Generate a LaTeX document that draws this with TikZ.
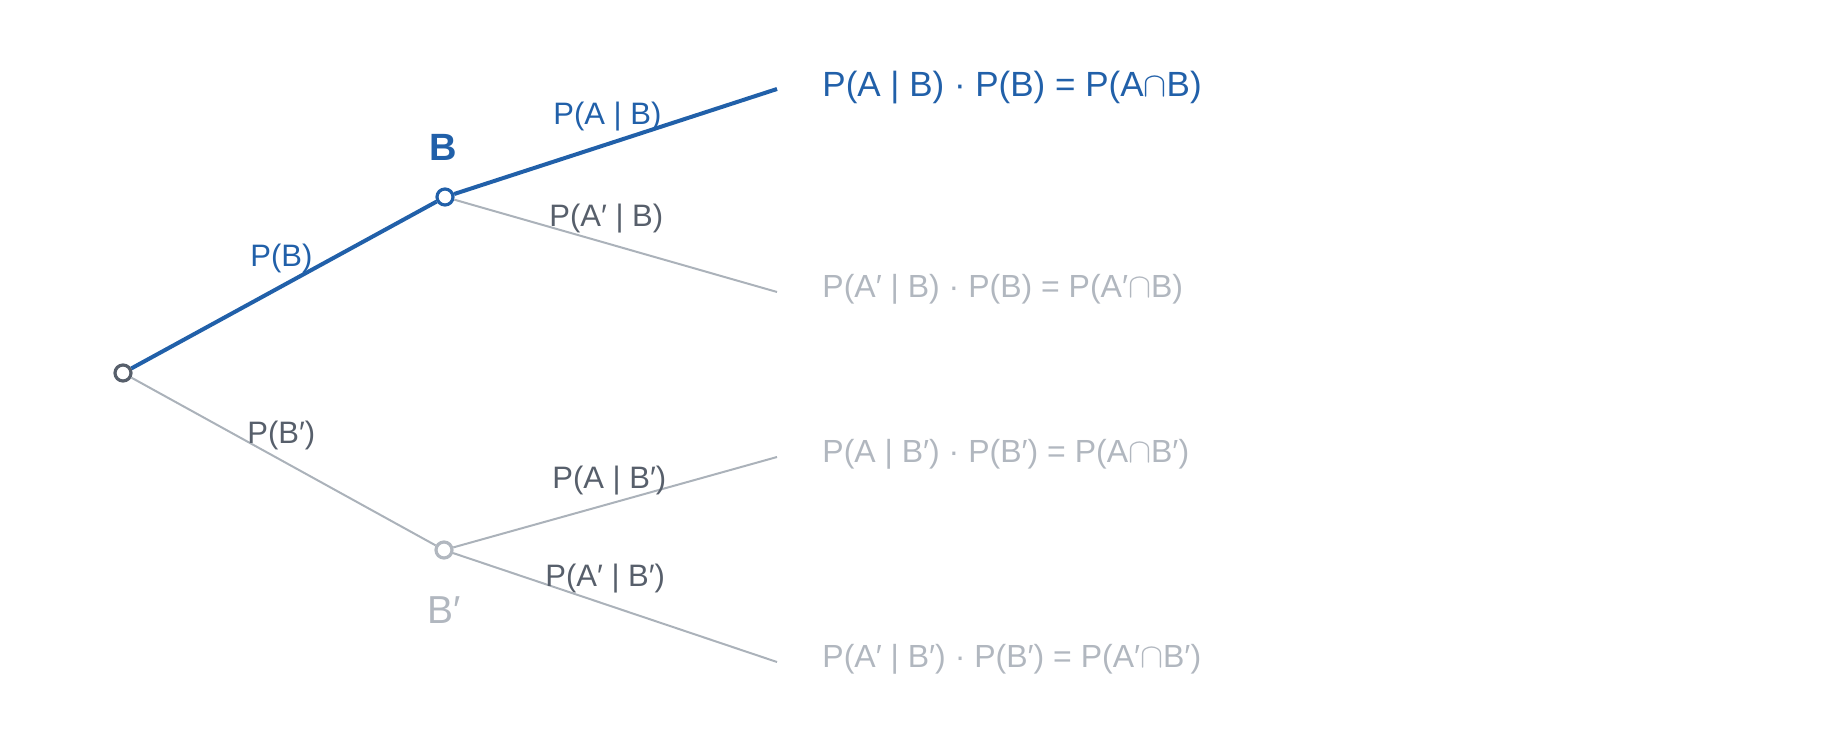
\documentclass[tikz,border=0pt]{standalone}
\usepackage{fontspec}
\setmainfont{Liberation Sans}
\definecolor{treeblue}{HTML}{2160A9}
\definecolor{darkgrey}{HTML}{575F6B}
\definecolor{lightgrey}{HTML}{ABB2BA}
\definecolor{leafgrey}{HTML}{B1B7BF}
\newcommand{\capsym}{\ensuremath{\cap}}

\begin{document}
\begin{tikzpicture}[x=0.5pt, y=-0.5pt,
    knot/.style={circle, draw, fill=white, line width=1.6pt, minimum size=8pt, inner sep=0pt},
    branch/.style={lightgrey, line width=1pt},
    path/.style={treeblue, line width=2pt},
    prob/.style={anchor=base west, inner sep=0pt, font=\fontsize{15.5}{18}\selectfont},
    leaf/.style={anchor=base west, inner sep=0pt, leafgrey, font=\fontsize{16}{19}\selectfont}]
    \useasboundingbox (0,0) rectangle (1824,748);
    % end points of the branches
    \coordinate (AB) at (777,89);
    \coordinate (nAB) at (777,292);
    \coordinate (AnB) at (777,457);
    \coordinate (nAnB) at (777,662);
    % knots
    \node[knot, draw=darkgrey] (root) at (123,373) {};
    \node[knot, draw=treeblue] (B) at (445,197) {};
    \node[knot, draw=leafgrey] (nB) at (444,550) {};
    \node[anchor=base, inner sep=0pt, treeblue, font=\fontsize{19}{22}\bfseries] (Blab) at (443,161) {B};
    \node[anchor=base west, inner sep=0pt, leafgrey, font=\fontsize{19.5}{23}\selectfont] (nBlab) at (427,623) {B′};
    % branches
    \draw[path] (root) -- (B);
    \draw[path] (B) -- (AB);
    \draw[branch] (B) -- (nAB);
    \draw[branch] (root) -- (nB);
    \draw[branch] (nB) -- (AnB);
    \draw[branch] (nB) -- (nAnB);
    % probabilities on the branches
    \node[prob, treeblue] (pB) at (250,267) {P(B)};
    \node[prob, treeblue] (pAB) at (553,125) {P(A | B)};
    \node[prob, darkgrey] (pnAB) at (549,227) {P(A′ | B)};
    \node[prob, darkgrey] (pnB) at (247,443) {P(B′)};
    \node[prob, darkgrey] (pAnB) at (552,488) {P(A | B′)};
    \node[prob, darkgrey] (pnAnB) at (545,586) {P(A′ | B′)};
    % results at the leaves
    \node[leaf, treeblue, font=\fontsize{17.5}{21}\selectfont] (rAB) at (822,97) {P(A | B) · P(B) = P(A\capsym B)};
    \node[leaf] (rnAB) at (822,298) {P(A′ | B) · P(B) = P(A′\capsym B)};
    \node[leaf] (rAnB) at (822,462) {P(A | B′) · P(B′) = P(A\capsym B′)};
    \node[leaf] (rnAnB) at (822,667) {P(A′ | B′) · P(B′) = P(A′\capsym B′)};
\end{tikzpicture}
\end{document}
